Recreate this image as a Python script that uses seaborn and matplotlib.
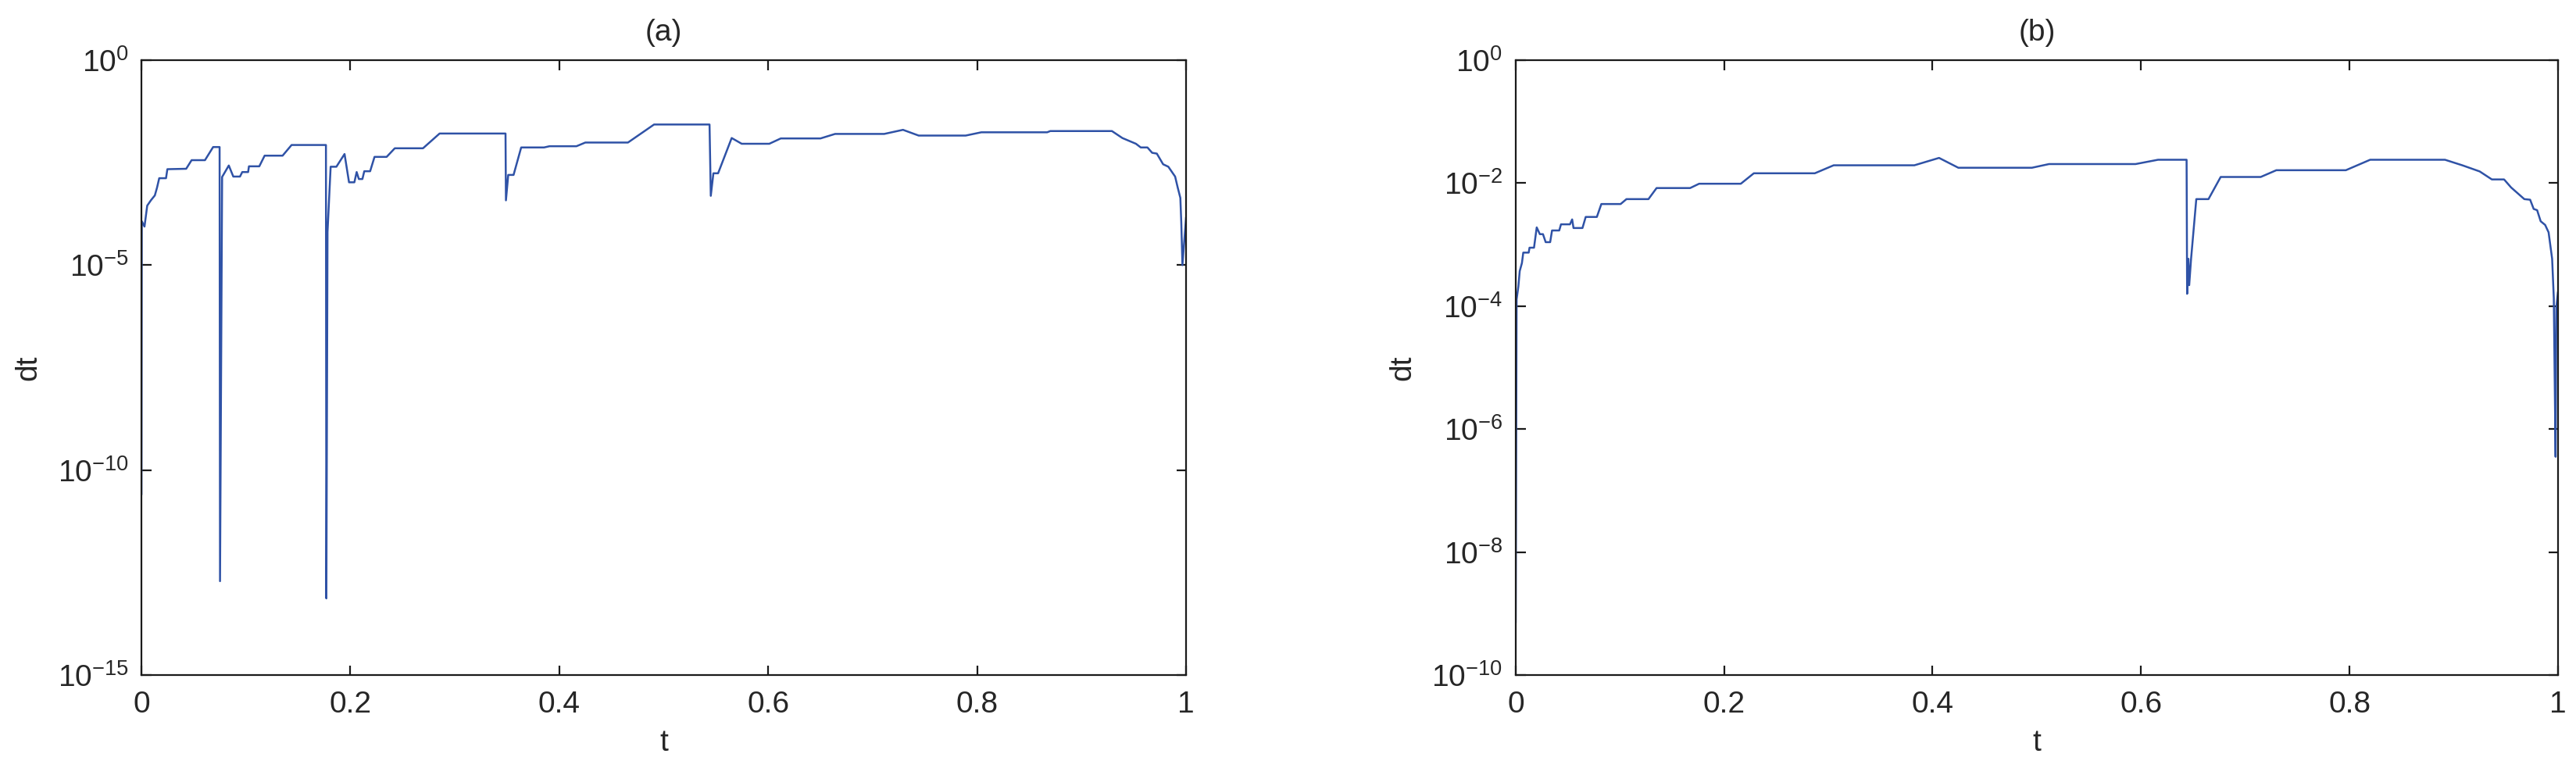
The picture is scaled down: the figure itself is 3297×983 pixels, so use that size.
import numpy as np
import pandas as pd
import matplotlib
matplotlib.use("Agg")
import matplotlib.pyplot as plt
import seaborn as sns

# ── data (time t, log10 of step size dt) ──
t_a = [0.0, 0.0003, 0.0029, 0.0055, 0.0090, 0.0128, 0.0149, 0.0170, 0.0235, 0.0248,
       0.0428, 0.0480, 0.0608, 0.0686, 0.0748, 0.0752, 0.0772, 0.0836, 0.0879, 0.0943,
       0.0965, 0.1021, 0.1029, 0.1128, 0.1179, 0.1351, 0.1437, 0.1766, 0.1770, 0.1781,
       0.1811, 0.1866, 0.1944, 0.1987, 0.2038, 0.2060, 0.2081, 0.2115, 0.2133, 0.2189,
       0.2231, 0.2347, 0.2425, 0.2695, 0.2854, 0.3485, 0.3489, 0.3511, 0.3562, 0.3635,
       0.3854, 0.3906, 0.4164, 0.4249, 0.4657, 0.4907, 0.5438, 0.5450, 0.5475, 0.5520,
       0.5650, 0.5746, 0.6010, 0.6120, 0.6500, 0.6640, 0.7110, 0.7290, 0.7440, 0.7890,
       0.8040, 0.8670, 0.8700, 0.9290, 0.9390, 0.9520, 0.9566, 0.9630, 0.9675, 0.9720,
       0.9780, 0.9830, 0.9895, 0.9920, 0.9945, 0.9954, 0.9965, 1.0]
exp_a = [-10.6, -3.93, -4.06, -3.55, -3.42, -3.30, -3.11, -2.88, -2.88, -2.66,
         -2.65, -2.44, -2.44, -2.12, -2.12, -12.71, -2.85, -2.57, -2.84, -2.84,
         -2.73, -2.73, -2.59, -2.59, -2.33, -2.33, -2.07, -2.07, -13.13, -4.19,
         -2.60, -2.60, -2.29, -2.98, -2.98, -2.73, -2.90, -2.90, -2.71, -2.71,
         -2.36, -2.36, -2.15, -2.15, -1.79, -1.79, -3.42, -2.80, -2.80, -2.13,
         -2.13, -2.10, -2.10, -2.01, -2.01, -1.57, -1.57, -3.31, -2.76, -2.76,
         -1.90, -2.04, -2.04, -1.91, -1.91, -1.80, -1.80, -1.70, -1.84, -1.84,
         -1.76, -1.76, -1.73, -1.73, -1.90, -2.04, -2.13, -2.13, -2.26, -2.28,
         -2.54, -2.60, -2.84, -3.11, -3.36, -3.96, -5.00, -3.83]

t_b = [0.0, 0.0009, 0.0026, 0.0039, 0.0060, 0.0073, 0.0125, 0.0133, 0.0176, 0.0202,
       0.0232, 0.0262, 0.0288, 0.0331, 0.0349, 0.0418, 0.0435, 0.0521, 0.0542, 0.0555,
       0.0641, 0.0672, 0.0779, 0.0822, 0.1007, 0.1063, 0.1274, 0.1352, 0.1674, 0.1760,
       0.2160, 0.2285, 0.2870, 0.3051, 0.3825, 0.4062, 0.4247, 0.4953, 0.5117, 0.5947,
       0.6163, 0.6437, 0.6442, 0.6454, 0.6462, 0.6480, 0.6530, 0.6647, 0.6764, 0.7148,
       0.7298, 0.7965, 0.8198, 0.8916, 0.9082, 0.9249, 0.9366, 0.9483, 0.9550, 0.9677,
       0.9733, 0.9767, 0.9800, 0.9834, 0.9877, 0.9910, 0.9944, 0.9960, 0.9967, 0.9977,
       0.9984, 1.0]
exp_b = [-9.15, -3.89, -3.68, -3.43, -3.30, -3.13, -3.13, -3.05, -3.05, -2.72,
         -2.83, -2.83, -2.96, -2.96, -2.77, -2.77, -2.67, -2.67, -2.59, -2.73,
         -2.73, -2.55, -2.55, -2.34, -2.34, -2.26, -2.26, -2.08, -2.08, -2.01,
         -2.01, -1.84, -1.84, -1.71, -1.71, -1.59, -1.75, -1.75, -1.69, -1.69,
         -1.62, -1.62, -3.80, -3.23, -3.66, -3.23, -2.26, -2.26, -1.90, -1.90,
         -1.79, -1.79, -1.62, -1.62, -1.71, -1.81, -1.94, -1.94, -2.07, -2.26,
         -2.27, -2.42, -2.44, -2.62, -2.68, -2.80, -3.23, -3.87, -4.95, -6.45,
         -4.02, -3.77]

x_ticks = [0, 0.2, 0.4, 0.6, 0.8, 1]
x_tick_labels = ["0", "0.2", "0.4", "0.6", "0.8", "1"]
y_exps_a = [0, -5, -10, -15]
y_exps_b = [0, -2, -4, -6, -8, -10]
titles = ["(a)", "(b)"]

LINE_COLOR = "#2f52a6"

# ── style ──
sns.set_style("ticks")
plt.rcParams["font.family"] = ["Liberation Sans", "DejaVu Sans"]
plt.rcParams["mathtext.fontset"] = "custom"
plt.rcParams["mathtext.rm"] = "Liberation Sans"
plt.rcParams["mathtext.it"] = "Liberation Sans:italic"
plt.rcParams["mathtext.default"] = "regular"
plt.rcParams["font.size"] = 28
plt.rcParams["axes.linewidth"] = 1.6

fig = plt.figure(figsize=(32.98, 9.83), dpi=100)
ax_a = fig.add_axes([0.0549, 0.121, 0.4054, 0.8007])
ax_b = fig.add_axes([0.5882, 0.121, 0.4045, 0.8007])

panels = [
    (ax_a, t_a, exp_a, y_exps_a, titles[0]),
    (ax_b, t_b, exp_b, y_exps_b, titles[1]),
]

for ax, t, ex, y_exps, title in panels:
    df = pd.DataFrame({"t": t, "dt": np.power(10.0, ex)})
    sns.lineplot(data=df, x="t", y="dt", ax=ax, estimator=None, sort=False,
                 color=LINE_COLOR, linewidth=1.8)
    ax.set_yscale("log")
    ax.set_xlim(0, 1)
    ax.set_ylim(10.0 ** min(y_exps), 10.0 ** max(y_exps))
    ax.set_xticks(x_ticks)
    ax.set_xticklabels(x_tick_labels)
    ax.set_yticks([10.0 ** e for e in y_exps])
    ax.set_yticklabels([r"$10^{%d}$" % e for e in y_exps])
    ax.minorticks_off()
    ax.tick_params(direction="in", length=9, width=1.6, top=True, right=True,
                   labelsize=28, color="#1a1a1a")
    ax.tick_params(axis="x", pad=14)
    ax.tick_params(axis="y", pad=12)
    for sp in ax.spines.values():
        sp.set_visible(True)
        sp.set_color("#1a1a1a")
    ax.set_xlabel("t", fontsize=28, labelpad=10)
    ax.set_ylabel("dt", fontsize=28, labelpad=14)
    ax.set_title(title, fontsize=28, pad=18)

fig.savefig("out.png", dpi=100, facecolor="white")
